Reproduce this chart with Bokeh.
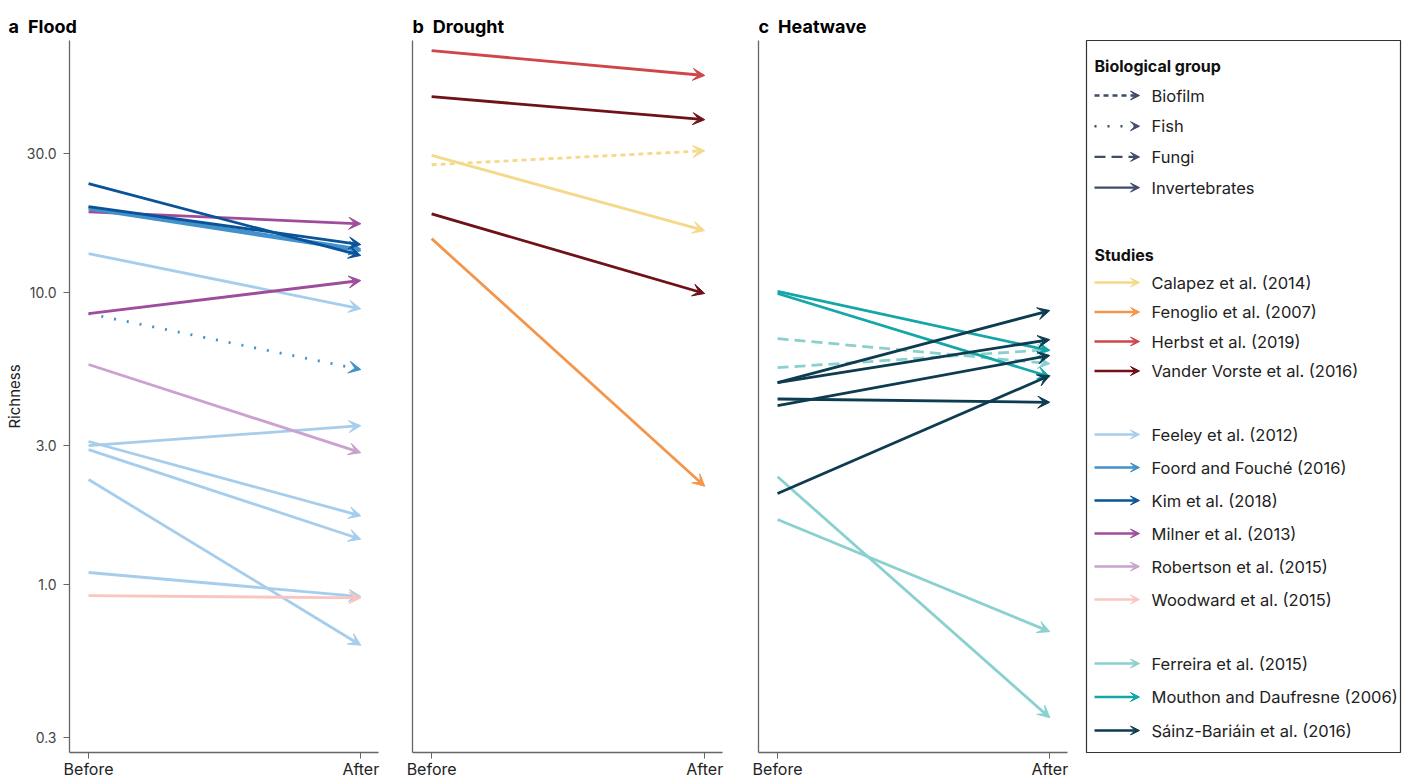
from bokeh.plotting import figure
from bokeh.models import Range1d, FixedTicker, PrintfTickFormatter, Arrow, VeeHead, Title
from bokeh.layouts import row
from bokeh.embed import file_html
from bokeh.resources import INLINE
from bokeh.core.properties import value

FONT = "Inter"

# ---------------- data ----------------
time_labels = ["Before", "After"]
y_ticks = [0.3, 1.0, 3.0, 10.0, 30.0]

groups = ["Biofilm", "Fish", "Fungi", "Invertebrates"]
group_dash = {"Biofilm": "5 4", "Fish": "2 11", "Fungi": "11 6", "Invertebrates": "solid"}

drought_studies = ["Calapez et al. (2014)", "Fenoglio et al. (2007)", "Herbst et al. (2019)",
                   "Vander Vorste et al. (2016)"]
flood_studies = ["Feeley et al. (2012)", "Foord and Fouché (2016)", "Kim et al. (2018)",
                 "Milner et al. (2013)", "Robertson et al. (2015)", "Woodward et al. (2015)"]
heat_studies = ["Ferreira et al. (2015)", "Mouthon and Daufresne (2006)", "Sáinz-Bariáin et al. (2016)"]

study_colors = {
    "Calapez et al. (2014)": "#F5D888",
    "Fenoglio et al. (2007)": "#F3964B",
    "Herbst et al. (2019)": "#CF4648",
    "Vander Vorste et al. (2016)": "#6E1218",
    "Feeley et al. (2012)": "#A6CEEC",
    "Foord and Fouché (2016)": "#4391CB",
    "Kim et al. (2018)": "#0A5399",
    "Milner et al. (2013)": "#9F4C9C",
    "Robertson et al. (2015)": "#CBA1CF",
    "Woodward et al. (2015)": "#FAC5C1",
    "Ferreira et al. (2015)": "#88D1CF",
    "Mouthon and Daufresne (2006)": "#15A6A8",
    "Sáinz-Bariáin et al. (2016)": "#0D3B50",
}
group_legend_color = "#3E4B6B"

# Flood
flood_study = ["Feeley et al. (2012)", "Feeley et al. (2012)", "Feeley et al. (2012)",
               "Feeley et al. (2012)", "Feeley et al. (2012)", "Feeley et al. (2012)",
               "Woodward et al. (2015)", "Robertson et al. (2015)", "Foord and Fouché (2016)",
               "Milner et al. (2013)", "Milner et al. (2013)", "Foord and Fouché (2016)",
               "Foord and Fouché (2016)", "Kim et al. (2018)", "Kim et al. (2018)"]
flood_group = ["Invertebrates"] * 8 + ["Fish"] + ["Invertebrates"] * 6
flood_before = [13.6, 2.99, 3.09, 2.90, 2.29, 1.10, 0.917, 5.67, 8.47, 8.47, 18.9, 19.6, 19.3, 19.7, 23.6]
flood_after = [8.8, 3.50, 1.72, 1.43, 0.62, 0.91, 0.90, 2.83, 5.45, 11.0, 17.2, 14.1, 13.9, 14.6, 13.4]

# Drought
drought_study = ["Herbst et al. (2019)", "Vander Vorste et al. (2016)", "Calapez et al. (2014)",
                 "Calapez et al. (2014)", "Vander Vorste et al. (2016)", "Fenoglio et al. (2007)"]
drought_group = ["Invertebrates", "Invertebrates", "Biofilm", "Invertebrates", "Invertebrates", "Invertebrates"]
drought_before = [67.4, 46.9, 27.4, 29.5, 18.6, 15.3]
drought_after = [55.4, 39.1, 30.6, 16.3, 9.93, 2.17]

# Heatwave
heat_study = ["Ferreira et al. (2015)", "Ferreira et al. (2015)", "Ferreira et al. (2015)",
              "Ferreira et al. (2015)", "Mouthon and Daufresne (2006)", "Mouthon and Daufresne (2006)",
              "Sáinz-Bariáin et al. (2016)", "Sáinz-Bariáin et al. (2016)", "Sáinz-Bariáin et al. (2016)",
              "Sáinz-Bariáin et al. (2016)", "Sáinz-Bariáin et al. (2016)"]
heat_group = ["Invertebrates", "Invertebrates", "Fungi", "Fungi"] + ["Invertebrates"] * 7
heat_before = [2.34, 1.67, 6.96, 5.53, 10.1, 9.93, 4.92, 4.92, 4.10, 4.32, 2.05]
heat_after = [0.35, 0.69, 5.71, 6.38, 6.33, 5.15, 8.68, 6.90, 6.09, 4.21, 5.20]

# ---------------- layout ----------------
H = 781
TOP = 40
BOTTOM = 29
YR = (0.266, 73.0)
XR = (-0.07, 1.065)
AXIS_COLOR = "#666666"


def make_panel(letter, word, width, left, right, study, group, before, after, labels):
    p = figure(width=width, height=H, x_range=Range1d(*XR), y_range=Range1d(*YR),
               y_axis_type="log", output_backend="svg", toolbar_location=None,
               min_border_left=left, min_border_right=right,
               min_border_top=TOP, min_border_bottom=BOTTOM)
    p.outline_line_color = None
    p.grid.visible = False
    p.background_fill_color = "white"
    p.border_fill_color = "white"

    p.add_layout(Title(text=f"{letter}\u2002{word}", align="left",
                       offset=(-left + 8) if labels else 0,
                       text_font=FONT, text_font_size="18px", text_font_style="bold",
                       text_color="#000000", standoff=8), "above")

    xa = p.xaxis[0]
    xa.ticker = FixedTicker(ticks=list(range(len(time_labels))), minor_ticks=[])
    xa.major_label_overrides = {i: t for i, t in enumerate(time_labels)}
    xa.major_label_text_font = FONT
    xa.major_label_text_font_size = "16px"
    xa.major_label_text_color = "#222222"
    xa.major_label_standoff = 0
    xa.major_tick_out = 6
    xa.major_tick_in = 0
    xa.minor_tick_line_color = None
    xa.axis_line_color = AXIS_COLOR
    xa.major_tick_line_color = AXIS_COLOR
    xa.axis_line_width = 1.3

    ya = p.yaxis[0]
    ya.axis_line_color = AXIS_COLOR
    ya.axis_line_width = 1.3
    ya.minor_tick_line_color = None
    if labels:
        ya.ticker = FixedTicker(ticks=y_ticks, minor_ticks=[])
        ya.formatter = PrintfTickFormatter(format="%.1f")
        ya.major_label_text_font = FONT
        ya.major_label_text_font_size = "14px"
        ya.major_label_text_color = "#444444"
        ya.major_tick_out = 6
        ya.major_tick_in = 0
        ya.major_label_standoff = 7
        ya.major_tick_line_color = AXIS_COLOR
        ya.axis_label = "Richness"
        ya.axis_label_text_font = FONT
        ya.axis_label_text_font_size = "15px"
        ya.axis_label_text_font_style = "normal"
        ya.axis_label_text_color = "#222222"
        ya.axis_label_standoff = 0
    else:
        ya.ticker = FixedTicker(ticks=[], minor_ticks=[])
        ya.major_tick_line_color = None
        ya.major_label_text_font_size = "0px"

    for s, g, b, a in zip(study, group, before, after):
        c = study_colors[s]
        p.add_layout(Arrow(end=VeeHead(size=12, fill_color=c, line_color=c, line_width=1),
                           x_start=0, y_start=b, x_end=1, y_end=a,
                           line_color=c, line_width=2.8, line_dash=group_dash[g]))
    return p


pa = make_panel("a", "Flood", 392, 69, 14, flood_study, flood_group, flood_before, flood_after, True)
pb = make_panel("b", "Drought", 346, 20, 16, drought_study, drought_group, drought_before, drought_after, False)
pc = make_panel("c", "Heatwave", 340, 20, 11, heat_study, heat_group, heat_before, heat_after, False)

# ---------------- legend panel ----------------
LW, LH = 314, 712
leg = figure(width=328, height=H, x_range=Range1d(0, LW), y_range=Range1d(LH, 0),
             output_backend="svg", toolbar_location=None,
             min_border_left=8, min_border_right=6, min_border_top=TOP, min_border_bottom=H - TOP - LH)
leg.axis.visible = False
leg.grid.visible = False
leg.outline_line_color = "#333333"
leg.outline_line_width = 1.2

AX0, AX1, TX = 8, 53, 65
header_y = [25, 214]
leg.text(x=[AX0, AX0], y=header_y, text=["Biological group", "Studies"],
         text_font=value(FONT), text_font_size="16px", text_font_style="bold",
         text_baseline="middle", text_color="#111111")

gy = [55 + i * 30.7 for i in range(len(groups))]
leg.text(x=[TX] * len(groups), y=gy, text=groups, text_font=value(FONT), text_font_size="16.5px",
         text_baseline="middle", text_color="#222222")
for g, yy in zip(groups, gy):
    leg.add_layout(Arrow(end=VeeHead(size=9, fill_color=group_legend_color, line_color=group_legend_color),
                         x_start=AX0, y_start=yy, x_end=AX1, y_end=yy,
                         line_color=group_legend_color, line_width=2.4, line_dash=group_dash[g]))

blocks = [(drought_studies, 242, 29.5), (flood_studies, 394, 33.0), (heat_studies, 623, 33.5)]
for names, y0, step in blocks:
    ys = [y0 + i * step for i in range(len(names))]
    leg.text(x=[TX] * len(names), y=ys, text=names, text_font=value(FONT), text_font_size="16.5px",
             text_baseline="middle", text_color="#222222")
    for n, yy in zip(names, ys):
        c = study_colors[n]
        leg.add_layout(Arrow(end=VeeHead(size=9, fill_color=c, line_color=c),
                             x_start=AX0, y_start=yy, x_end=AX1, y_end=yy,
                             line_color=c, line_width=2.4))

layout = row(pa, pb, pc, leg)
open("out.html", "w").write(file_html(layout, INLINE))
